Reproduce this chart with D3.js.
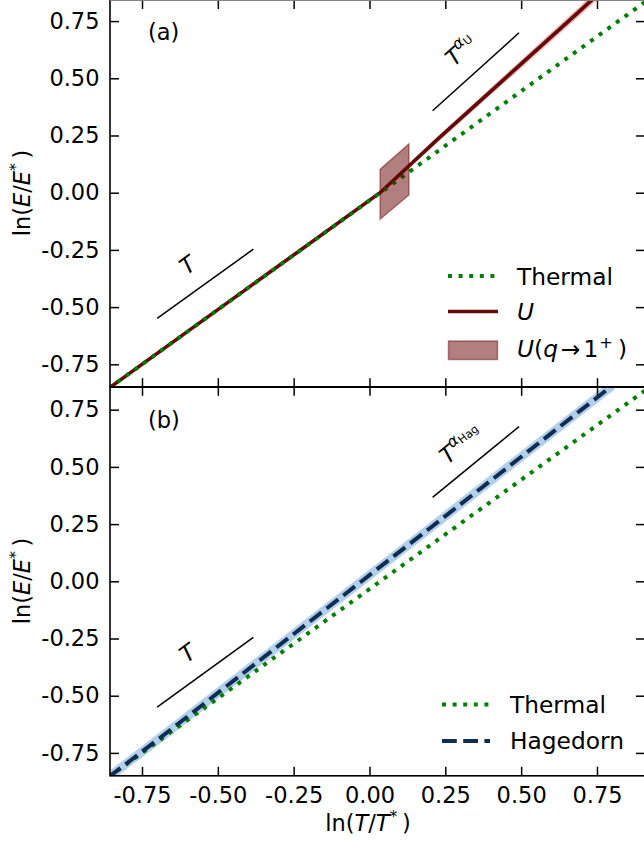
<!DOCTYPE html>
<html><head><meta charset="utf-8">
<script src="https://cdn.jsdelivr.net/npm/d3@7"></script>
<style>
body{margin:0;background:#fff}
svg text{font-family:"DejaVu Sans",sans-serif;fill:#000}
</style>
</head><body>
<svg id="c" width="644" height="841"></svg>
<script>
// ---- data ----
const xTicks = [-0.75, -0.5, -0.25, 0, 0.25, 0.5, 0.75];
const yTicks = [-0.75, -0.5, -0.25, 0, 0.25, 0.5, 0.75];
const xTickLabels = ["-0.75", "-0.50", "-0.25", "0.00", "0.25", "0.50", "0.75"];
const yTickLabels = ["-0.75", "-0.50", "-0.25", "0.00", "0.25", "0.50", "0.75"];

const thermalT = [-0.86, 0.91];
const thermalE = [-0.855, 0.835];

const uT = [-0.86, 0.035, 0.226, 0.45, 0.661, 0.76];
const uE = [-0.855, 0.0, 0.235, 0.503, 0.755, 0.875];
const uHalo = [0, 0, 0.004, 0.008, 0.011, 0.013];

const bandT = [0.035, 0.13];
const bandLow = [-0.116, -0.010];
const bandHigh = [0.102, 0.213];

const hagT = [-0.86, -0.70, 0.20, 0.782, 0.80];
const hagE = [-0.856, -0.694, 0.233, 0.836, 0.855];

const guideA1T = [-0.70, -0.383], guideA1E = [-0.549, -0.247];
const guideA2T = [0.208, 0.493],  guideA2E = [0.358, 0.699];
const guideB1T = [-0.70, -0.383], guideB1E = [-0.550, -0.245];
const guideB2T = [0.208, 0.493],  guideB2E = [0.367, 0.676];

// ---- layout ----
const svg = d3.select("#c");
const X0 = 110, X1 = 645;
const x = d3.scaleLinear().domain([-0.8555, 0.9083]).range([X0, X1]);
const yA = d3.scaleLinear().domain([-0.85, 0.85]).range([387.2, -1.8]);
const yB = d3.scaleLinear().domain([-0.85, 0.85]).range([775.8, 386.8]);
const panels = [
  {y: yA, top: 0, bot: 387.2, id: "a"},
  {y: yB, top: 386.8, bot: 775.8, id: "b"}
];
const FS = 22.5;
const LFS = 23.3;

const defs = svg.append("defs");
panels.forEach(p => {
  defs.append("clipPath").attr("id", "clip" + p.id).append("rect")
    .attr("x", X0).attr("y", p.top).attr("width", X1 - X0).attr("height", p.bot - p.top);
});

function zip(a, b) { return a.map((v, i) => [v, b[i]]); }
function lineGen(y) { return d3.line().x(d => x(d[0])).y(d => y(d[1])); }

const green = "#008000";
const darkRed = "#650a0a";
const navy = "#0f2d52";

// ---- panel (a) ----
(function () {
  const y = yA;
  const g = svg.append("g").attr("clip-path", "url(#clipa)");
  g.append("path")
    .datum(uT.map((t, i) => [t, uE[i] - uHalo[i], uE[i] + uHalo[i]]))
    .attr("d", d3.area().x(d => x(d[0])).y0(d => y(d[1])).y1(d => y(d[2])))
    .attr("fill", "#e06060").attr("fill-opacity", 0.45)
    .attr("stroke", "#e06060").attr("stroke-opacity", 0.45).attr("stroke-width", 3);
  g.append("path").datum(zip(uT, uE)).attr("d", lineGen(y))
    .attr("fill", "none").attr("stroke", darkRed).attr("stroke-width", 3.6);
  g.append("path").datum(zip(thermalT, thermalE)).attr("d", lineGen(y))
    .attr("fill", "none").attr("stroke", green).attr("stroke-width", 4)
    .attr("stroke-dasharray", "4 6.6");
  g.append("path")
    .datum(bandT.map((t, i) => [t, bandLow[i], bandHigh[i]]))
    .attr("d", d3.area().x(d => x(d[0])).y0(d => y(d[1])).y1(d => y(d[2])))
    .attr("fill", "rgb(100,0,0)").attr("fill-opacity", 0.5)
    .attr("stroke", "rgb(100,0,0)").attr("stroke-opacity", 0.45).attr("stroke-width", 1.5);
  [[guideA1T, guideA1E], [guideA2T, guideA2E]].forEach(([t, e]) => {
    g.append("path").datum(zip(t, e)).attr("d", lineGen(y))
      .attr("fill", "none").attr("stroke", "#000").attr("stroke-width", 1.5);
  });
})();

// ---- panel (b) ----
(function () {
  const y = yB;
  const g = svg.append("g").attr("clip-path", "url(#clipb)");
  g.append("path").datum(zip(hagT, hagE)).attr("d", lineGen(y))
    .attr("fill", "none").attr("stroke", "#b2d0ea").attr("stroke-width", 9);
  g.append("path").datum(zip(thermalT, thermalE)).attr("d", lineGen(y))
    .attr("fill", "none").attr("stroke", green).attr("stroke-width", 4)
    .attr("stroke-dasharray", "4 6.6");
  g.append("path").datum(zip(hagT, hagE)).attr("d", lineGen(y))
    .attr("fill", "none").attr("stroke", navy).attr("stroke-width", 4)
    .attr("stroke-dasharray", "14.8 6.4");
  [[guideB1T, guideB1E], [guideB2T, guideB2E]].forEach(([t, e]) => {
    g.append("path").datum(zip(t, e)).attr("d", lineGen(y))
      .attr("fill", "none").attr("stroke", "#000").attr("stroke-width", 1.5);
  });
})();

// ---- axes ----
function styleAxis(sel) {
  sel.select(".domain").remove();
  sel.selectAll(".tick line").attr("stroke", "#000").attr("stroke-width", 1.5);
  sel.selectAll(".tick text").attr("font-size", FS).attr("fill", "#000")
     .attr("font-family", "DejaVu Sans, sans-serif");
}
panels.forEach((p, pi) => {
  svg.append("g").attr("transform", `translate(${X0},0)`)
    .call(d3.axisLeft(p.y).tickValues(yTicks).tickSize(-9).tickPadding(10.5)
      .tickFormat((d, i) => yTickLabels[i]))
    .call(styleAxis);
  svg.append("g").attr("transform", `translate(${X1},0)`)
    .call(d3.axisRight(p.y).tickValues(yTicks).tickSize(-9).tickFormat(""))
    .call(styleAxis);
  svg.append("g").attr("transform", `translate(0,${p.top})`)
    .call(d3.axisTop(x).tickValues(xTicks).tickSize(-9).tickFormat(""))
    .call(styleAxis);
  const bax = d3.axisBottom(x).tickValues(xTicks).tickSize(-9).tickPadding(11)
    .tickFormat(pi === 1 ? ((d, i) => xTickLabels[i]) : "");
  svg.append("g").attr("transform", `translate(0,${p.bot})`).call(bax).call(styleAxis);
  svg.append("rect").attr("x", X0).attr("y", p.top).attr("width", X1 - X0)
    .attr("height", p.bot - p.top).attr("fill", "none").attr("stroke", "#000")
    .attr("stroke-width", 1.6);
});
svg.append("line").attr("x1", X0).attr("x2", X1).attr("y1", 0.3).attr("y2", 0.3)
  .attr("stroke", "#999").attr("stroke-width", 1);

// ---- labels ----
function ylab(cy) {
  const t = svg.append("text").attr("transform", `translate(30,${cy}) rotate(-90)`)
    .attr("text-anchor", "middle").attr("font-size", FS);
  t.append("tspan").text("ln(");
  t.append("tspan").attr("font-style", "italic").text("E");
  t.append("tspan").text("/");
  t.append("tspan").attr("font-style", "italic").text("E");
  t.append("tspan").attr("font-size", FS * 0.7).attr("dy", -9).text("*");
  t.append("tspan").attr("dy", 9).text("\u2009)");
}
ylab(193);
ylab(581);
(function () {
  const t = svg.append("text").attr("x", 368).attr("y", 831).attr("text-anchor", "middle")
    .attr("font-size", FS);
  t.append("tspan").text("ln(");
  t.append("tspan").attr("font-style", "italic").text("T");
  t.append("tspan").text("/");
  t.append("tspan").attr("font-style", "italic").text("T");
  t.append("tspan").attr("font-size", FS * 0.7).attr("dy", -9).text("*");
  t.append("tspan").attr("dy", 9).text("\u2009)");
})();

svg.append("text").attr("x", 148).attr("y", 40).attr("font-size", FS).text("(a)");
svg.append("text").attr("x", 148).attr("y", 428).attr("font-size", FS).text("(b)");

function rotLabel(px, py, ang, sub) {
  const t = svg.append("text")
    .attr("transform", `translate(${px},${py}) rotate(${ang})`)
    .attr("text-anchor", "middle").attr("font-size", FS);
  t.append("tspan").attr("font-style", "italic").attr("dy", "0.36em").text("T");
  if (sub) {
    t.append("tspan").attr("font-style", "italic").attr("font-size", FS * 0.7)
      .attr("dy", -10).text("\u03b1");
    t.append("tspan").attr("font-size", FS * 0.5).attr("dy", 3).text(sub);
  }
}
rotLabel(x(-0.600), yA(-0.316), -36, null);
rotLabel(x(-0.600), yB(-0.313), -36, null);
rotLabel(x(0.300), yA(0.622), -42, "U");
rotLabel(x(0.300), yB(0.600), -39, "Hag");

// ---- legends ----
(function () {
  const g = svg.append("g");
  g.append("line").attr("x1", 448).attr("x2", 498).attr("y1", 276).attr("y2", 276)
    .attr("stroke", green).attr("stroke-width", 4).attr("stroke-dasharray", "4 6.6");
  g.append("text").attr("x", 517).attr("y", 285).attr("font-size", LFS).text("Thermal");
  g.append("line").attr("x1", 448).attr("x2", 498).attr("y1", 311.5).attr("y2", 311.5)
    .attr("stroke", darkRed).attr("stroke-width", 3.6);
  g.append("text").attr("x", 517).attr("y", 320).attr("font-size", LFS)
    .attr("font-style", "italic").text("U");
  g.append("rect").attr("x", 448.5).attr("y", 341).attr("width", 49).attr("height", 18.5)
    .attr("fill", "rgb(100,0,0)").attr("fill-opacity", 0.5)
    .attr("stroke", "rgb(100,0,0)").attr("stroke-opacity", 0.45).attr("stroke-width", 1.5);
  const t = g.append("text").attr("x", 517).attr("y", 357).attr("font-size", LFS);
  t.append("tspan").attr("font-style", "italic").text("U");
  t.append("tspan").text("(");
  t.append("tspan").attr("font-style", "italic").text("q");
  t.append("tspan").attr("dx", 3).text("\u2192");
  t.append("tspan").attr("dx", 3).text("1");
  t.append("tspan").attr("font-size", LFS * 0.7).attr("dy", -9).attr("dx", 1).text("+");
  t.append("tspan").attr("dy", 9).attr("dx", 5).text(")");

  g.append("line").attr("x1", 442).attr("x2", 489).attr("y1", 704.5).attr("y2", 704.5)
    .attr("stroke", green).attr("stroke-width", 4).attr("stroke-dasharray", "4 6.6");
  g.append("text").attr("x", 510).attr("y", 713).attr("font-size", LFS).text("Thermal");
  g.append("line").attr("x1", 442).attr("x2", 490).attr("y1", 741).attr("y2", 741)
    .attr("stroke", navy).attr("stroke-width", 4).attr("stroke-dasharray", "14.8 6.4");
  g.append("text").attr("x", 510).attr("y", 749).attr("font-size", LFS).text("Hagedorn");
})();
</script>
</body></html>
